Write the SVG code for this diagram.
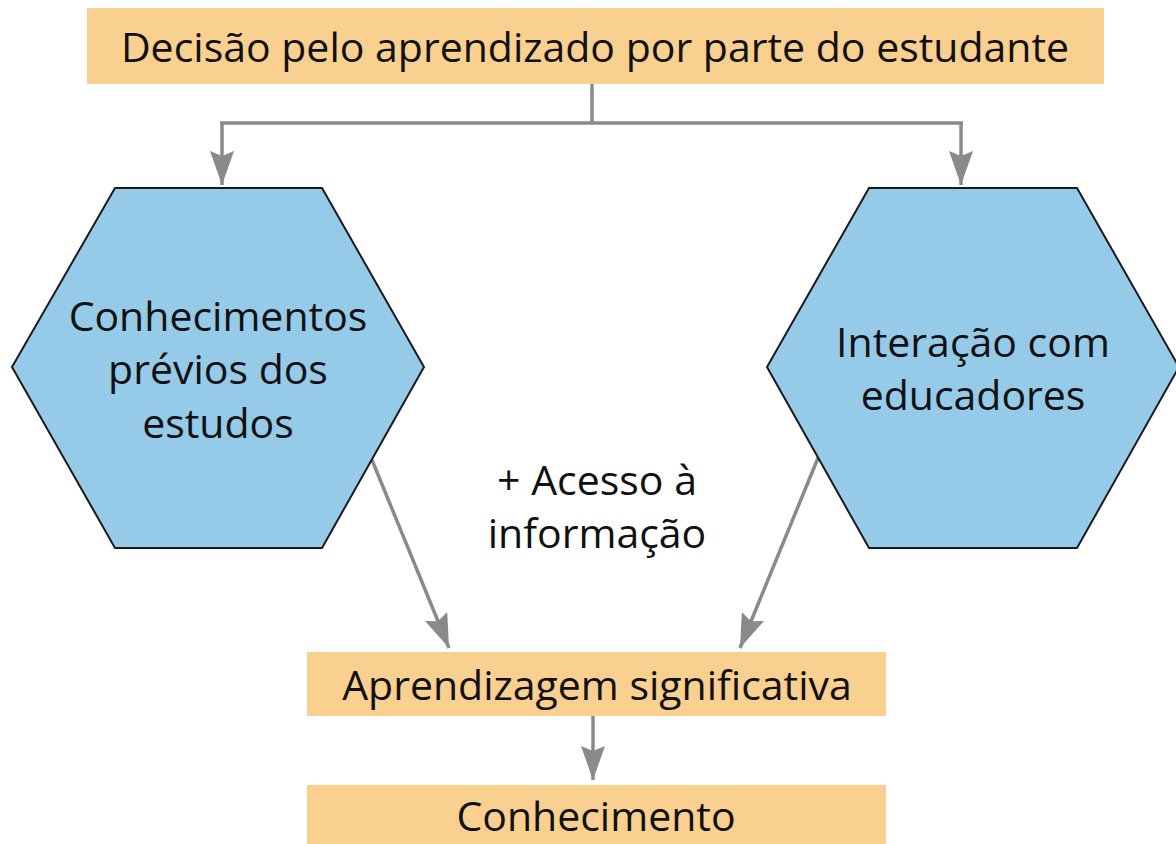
<svg xmlns="http://www.w3.org/2000/svg" width="1176" height="844" viewBox="0 0 1176 844">
<style>
.box{fill:#F9D08F;}
.hex{fill:#95CBE9;stroke:#1a1a1a;stroke-width:2;}
.t{font-family:"Open Sans","Noto Sans",sans-serif;font-size:41px;fill:#111;text-anchor:middle;}
.c{fill:none;stroke:#8a8a8a;stroke-width:3.5;}
</style>
<defs>
<marker id="ah" viewBox="0 0 34 24" refX="34" refY="12" markerWidth="34" markerHeight="24" markerUnits="userSpaceOnUse" orient="auto">
<path d="M0,0 L34,12 L0,24 L5,12 z" fill="#8a8a8a"/>
</marker>
</defs>
<rect width="1176" height="844" fill="#fff"/>
<g id="connectors">
<path class="c" d="M592 84 V123 M220 123 H963"/>
<path class="c" d="M222 123 V185" marker-end="url(#ah)"/>
<path class="c" d="M961 123 V185" marker-end="url(#ah)"/>
<path class="c" d="M372 460 L449 648" marker-end="url(#ah)"/>
<path class="c" d="M818 458 L740 648" marker-end="url(#ah)"/>
<path class="c" d="M593 716 V780" marker-end="url(#ah)"/>
</g>
<g id="decisao">
<rect class="box" x="87" y="8" width="1017" height="76"/>
<text class="t" x="595" y="62">Decisão pelo aprendizado por parte do estudante</text>
</g>
<g id="conhecimentos-previos">
<polygon class="hex" points="12,367 115,188 322,188 424,367 322,548 115,548"/>
<text class="t" x="218" y="331">Conhecimentos</text>
<text class="t" x="218" y="384">prévios dos</text>
<text class="t" x="218" y="438">estudos</text>
</g>
<g id="interacao">
<polygon class="hex" points="767,367 869,188 1077,188 1179,367 1077,548 869,548"/>
<text class="t" x="973" y="357">Interação com</text>
<text class="t" x="973" y="410">educadores</text>
</g>
<g id="acesso">
<text class="t" x="597" y="495">+ Acesso à</text>
<text class="t" x="597" y="548">informação</text>
</g>
<g id="aprendizagem">
<rect class="box" x="307" y="652" width="579" height="64"/>
<text class="t" x="597" y="700">Aprendizagem significativa</text>
</g>
<g id="conhecimento">
<rect class="box" x="307" y="785" width="579" height="70"/>
<text class="t" x="596" y="831">Conhecimento</text>
</g>
</svg>
